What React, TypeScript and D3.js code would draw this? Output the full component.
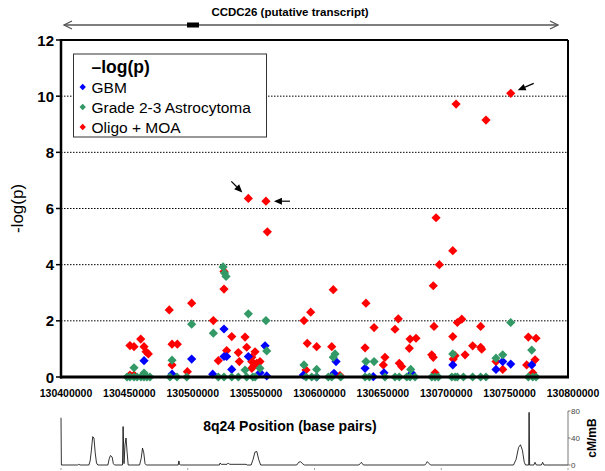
import React from "react";
import * as d3 from "d3";

// ---------- DATA ----------
const X_TICKS = [130400000, 130450000, 130500000, 130550000, 130600000, 130650000, 130700000, 130750000, 130800000];
const Y_TICKS = [0, 2, 4, 6, 8, 10, 12];
const GRID_TICKS = [2, 4, 6, 8, 10];
const RECOMB_TICKS = [0, 40, 80];
const RECOMB_BOTTOM_TICKS = [130400000, 130500000, 130600000, 130700000, 130800000];

const SERIES_NAMES = ["GBM", "Grade 2-3 Astrocytoma", "Oligo + MOA"];
const SERIES_COLORS = ["#0000FF", "#339966", "#FF0000"];

// [position (bp), -log(p)]
const GBM: [number, number][] = [
  [130465500, 0.58], [130487600, 0.1], [130503100, 0.64], [130528600, 1.71], [130528600, 0.73],
  [130530700, 0.73], [130547800, 0.73], [130534700, 0.27], [130519700, 0.1], [130561000, 1.11],
  [130557000, 0.15], [130562300, 0.04], [130591200, 0.07], [130601700, 0.0], [130617000, 0.55],
  [130615400, 0.13], [130639900, 0.31], [130646400, 0.01], [130654800, 0.15], [130676700, 0.13],
  [130709100, 0.43], [130748500, 0.55], [130754800, 0.46], [130743200, 0.27], [130771400, 0.43],
];

const ASTRO: [number, number][] = [
  [130457600, 0.33], [130465500, 0.14], [130452100, 0], [130454400, 0], [130457600, 0], [130460000, 0],
  [130463100, 0], [130465500, 0], [130467800, 0], [130470200, 0],
  [130487600, 0.6], [130486000, 0], [130491500, 0], [130499200, 0],
  [130503100, 1.88], [130520200, 1.56], [130527900, 3.92], [130529000, 3.7], [130530200, 3.58],
  [130547800, 2.25], [130545200, 0.25],
  [130524100, 0], [130528600, 0], [130534700, 0], [130539900, 0], [130546500, 0], [130551300, 0], [130553100, 0],
  [130561700, 2.01], [130562300, 0.93], [130557000, 0.31],
  [130591700, 0.43], [130601700, 0.27], [130593300, 0], [130597800, 0], [130601700, 0], [130610900, 0],
  [130613600, 0], [130620700, 0], [130616200, 0.82], [130614800, 0.7],
  [130640600, 0.55], [130647000, 0.55], [130639900, 0], [130643300, 0], [130655600, 0], [130663500, 0],
  [130666900, 0], [130672800, 0], [130675400, 0], [130679300, 0], [130675900, 0.27],
  [130692500, 0], [130695100, 0], [130697700, 0], [130709100, 0.82],
  [130708300, 0], [130710900, 0], [130712700, 0], [130717500, 0], [130724800, 0], [130731100, 0], [130735300, 0],
  [130754800, 1.94], [130748500, 0.79], [130743200, 0.67], [130771400, 0.96],
  [130768700, 0], [130772200, 0], [130774800, 0],
];

const OLIGO: [number, number][] = [
  [130454400, 1.12], [130457600, 1.08], [130462900, 1.35], [130465500, 1.08], [130467100, 0.9], [130468900, 0.82],
  [130454400, 0.07], [130457600, 0.07], [130485400, 2.39], [130487600, 1.17], [130491800, 1.17], [130487600, 0.43],
  [130503100, 2.63], [130499700, 0.19], [130528600, 3.13], [130528600, 3.76], [130520200, 2.01], [130534700, 1.44],
  [130545200, 1.42], [130530700, 0.94], [130524100, 0.58], [130539900, 0.87], [130546500, 1.06], [130540700, 0.55],
  [130551700, 0.37], [130550500, 0.31], [130554400, 0.49], [130553100, 0.9], [130550500, 0.7], [130550500, 0.55],
  [130557000, 0.55], [130547800, 6.36], [130561700, 6.26], [130562800, 5.17],
  [130614800, 3.11], [130597000, 2.31], [130591700, 2.01], [130594300, 1.2], [130601700, 1.08], [130593300, 0.25],
  [130613600, 1.08], [130620100, 0.05], [130640600, 2.63], [130647000, 1.76], [130639900, 1.04], [130655600, 0.7],
  [130654300, 0.43], [130666100, 2.07], [130663500, 1.7], [130675400, 1.35], [130680100, 1.38], [130674800, 1.02],
  [130666900, 0.49], [130668800, 0.37], [130693700, 3.25], [130694300, 1.8], [130692500, 0.79], [130693700, 0.7],
  [130695100, 0.15], [130695900, 5.67], [130709100, 4.5], [130698500, 4.0], [130711700, 9.72], [130735300, 9.15],
  [130754800, 10.1], [130716200, 2.06], [130712700, 1.94], [130709100, 1.44], [130731100, 1.8], [130724800, 1.11],
  [130731100, 1.06], [130731900, 0.99], [130718800, 0.79], [130710900, 0.76], [130709500, 0.64], [130743200, 0.55],
  [130748500, 0.27], [130768700, 1.42], [130774800, 1.38], [130774000, 0.61], [130767400, 0.43], [130772200, 0.15],
];

// recombination rate (cM/Mb) along the region
const RECOMB: [number, number][] = [
  [130400000, 70], [130400300, 0], [130413000, 0], [130414000, 1], [130415000, 0], [130422000, 0],
  [130423000, 6], [130424000, 22], [130425000, 42], [130426000, 40], [130427000, 18], [130428000, 3], [130429000, 0],
  [130437000, 0], [130438000, 9], [130439000, 14], [130440300, 12], [130441300, 2], [130442300, 0],
  [130448500, 0], [130449000, 57], [130449700, 2], [130450500, 30], [130451300, 40], [130452200, 18], [130453000, 0],
  [130462000, 0], [130463300, 10], [130464300, 25], [130465300, 18], [130466300, 2], [130467300, 0],
  [130492500, 0], [130493000, 6], [130493500, 1], [130494000, 0],
  [130525000, 0], [130525500, 3], [130526500, 1], [130531000, 1], [130532000, 3], [130533000, 1], [130546000, 1],
  [130547000, 0], [130550000, 0], [130551500, 8], [130553000, 19], [130554500, 20], [130556000, 8], [130557500, 0],
  [130586000, 0], [130587500, 4], [130589000, 5], [130590500, 2], [130592000, 0],
  [130635000, 0], [130636000, 2], [130637000, 4], [130638000, 1], [130639000, 0],
  [130687000, 0], [130688000, 2], [130689000, 5], [130690000, 3], [130691500, 0],
  [130757000, 0], [130759000, 8], [130761000, 26], [130762500, 30], [130764000, 22], [130765500, 4], [130766500, 0],
  [130769000, 0], [130769300, 78], [130769700, 0], [130773000, 0], [130774000, 4], [130775000, 0],
  [130779000, 0], [130780000, 4], [130781000, 0], [130800000, 0],
];

const FONT = "'Liberation Sans', Arial, Helvetica, sans-serif";

// ---------- LAYOUT ----------
const W = 605, H = 471;
const L = 61, R = 568, T = 40, B = 377;
const RB_TOP = 411, RB_BOT = 465;

const x = d3.scaleLinear().domain([130400000, 130800000]).range([L, R]);
const y = d3.scaleLinear().domain([0, 12]).range([B, T]);
const yr = d3.scaleLinear().domain([0, 80]).range([RB_BOT, RB_TOP]);

function diamond(cx: number, cy: number, r: number) {
  return `M${cx},${cy - r}L${cx + r},${cy}L${cx},${cy + r}L${cx - r},${cy}Z`;
}

function Arrow({ x1, y1, x2, y2 }: { x1: number; y1: number; x2: number; y2: number }) {
  const a = Math.atan2(y2 - y1, x2 - x1);
  const len = 8, w = 3.5;
  const bx = x2 - len * Math.cos(a), by = y2 - len * Math.sin(a);
  const px = -Math.sin(a) * w, py = Math.cos(a) * w;
  return (
    <g>
      <line x1={x1} y1={y1} x2={bx} y2={by} stroke="#000" strokeWidth={1.2} />
      <path d={`M${x2},${y2}L${bx + px},${by + py}L${bx - px},${by - py}Z`} fill="#000" />
    </g>
  );
}

export default function App() {
  const series = [GBM, ASTRO, OLIGO];
  const recombLine = d3.line<[number, number]>().x((d) => x(d[0])).y((d) => yr(d[1]))(RECOMB) || "";

  // annotation targets
  const p1 = [x(130547800), y(6.36)];
  const p2 = [x(130561700), y(6.26)];
  const p3 = [x(130754800), y(10.1)];

  return (
    <svg width={W} height={H} style={{ position: "absolute", left: 0, top: 0, background: "#fff" }} fontFamily={FONT}>
      <rect x={0} y={0} width={W} height={H} fill="#fff" />

      {/* transcript annotation */}
      <text x={290} y={16} textAnchor="middle" fontSize={11.5} fontWeight="bold">CCDC26 (putative transcript)</text>
      <line x1={64} y1={25} x2={558} y2={25} stroke="#555" strokeWidth={1.3} />
      <path d="M72,21L64,25L72,29" fill="none" stroke="#555" strokeWidth={1.3} />
      <path d="M550,21L558,25L550,29" fill="none" stroke="#555" strokeWidth={1.3} />
      <rect x={187} y={22.5} width={12} height={5} fill="#000" />

      {/* grid lines */}
      {GRID_TICKS.map((t) => (
        <line key={t} x1={L} x2={R} y1={y(t)} y2={y(t)} stroke="#000" strokeWidth={1} strokeDasharray="1.5,1.5" />
      ))}

      {/* plot border */}
      <line x1={L} x2={R} y1={T} y2={T} stroke="#000" strokeWidth={2} />
      <line x1={R} x2={R} y1={T} y2={B} stroke="#000" strokeWidth={2} />

      {/* y ticks */}
      {Y_TICKS.map((t) => (
        <g key={t}>
          <line x1={L - 5} x2={L} y1={y(t)} y2={y(t)} stroke="#000" strokeWidth={1.5} />
          <text x={L - 7} y={y(t) + 5.5} textAnchor="end" fontSize={15} fontWeight="bold">{t}</text>
        </g>
      ))}
      {/* x ticks */}
      {X_TICKS.map((t) => (
        <text key={t} x={x(t) + 5} y={397} textAnchor="middle" fontSize={10.5} fontWeight="bold">{t}</text>
      ))}

      <text transform={`translate(23,${(T + B) / 2}) rotate(-90)`} textAnchor="middle" fontSize={17}>-log(p)</text>

      {/* points */}
      {[2, 0, 1].map((si) => (
        <g key={si}>
          {series[si].map((d, i) => (
            <path key={i} d={diamond(x(d[0]), y(d[1]), 4.6)} fill={SERIES_COLORS[si]} />
          ))}
        </g>
      ))}

      {/* axes */}
      <line x1={L} x2={L} y1={T - 1} y2={B + 1.5} stroke="#000" strokeWidth={2.5} />
      <line x1={L - 1} x2={R + 1} y1={B} y2={B} stroke="#000" strokeWidth={3} />

      {/* annotation arrows */}
      <Arrow x1={p1[0] - 17} y1={p1[1] - 17} x2={p1[0] - 6} y2={p1[1] - 6} />
      <Arrow x1={p2[0] + 24} y1={p2[1]} x2={p2[0] + 8} y2={p2[1]} />
      <Arrow x1={p3[0] + 23} y1={p3[1] - 10} x2={p3[0] + 7} y2={p3[1] - 3} />

      {/* legend */}
      <rect x={73.5} y={54} width={193} height={83} fill="#fff" stroke="#333" strokeWidth={1} />
      <text x={91.5} y={73} fontSize={17.5} fontWeight="bold">–log(p)</text>
      {SERIES_NAMES.map((n, i) => (
        <g key={n}>
          <path d={diamond(82.7, 87 + i * 20, 3.2)} fill={SERIES_COLORS[i]} />
          <text x={91.5} y={92.5 + i * 20} fontSize={15.5}>{n}</text>
        </g>
      ))}

      {/* recombination panel */}
      <text x={290} y={431} textAnchor="middle" fontSize={14} fontWeight="bold">8q24 Position (base pairs)</text>
      <path d={recombLine} fill="none" stroke="#000" strokeWidth={0.8} />
      {RECOMB_BOTTOM_TICKS.map((t) => (
        <line key={t} x1={x(t)} x2={x(t)} y1={RB_BOT + 3} y2={RB_BOT + 5} stroke="#888" strokeWidth={0.8} />
      ))}
      <line x1={R} x2={R} y1={RB_TOP} y2={RB_BOT} stroke="#555" strokeWidth={0.8} />
      {RECOMB_TICKS.map((t) => (
        <g key={t}>
          <line x1={R} x2={R + 2.5} y1={yr(t)} y2={yr(t)} stroke="#555" strokeWidth={0.8} />
          <text x={R + 3} y={yr(t) + 3} fontSize={8} fill="#444">{t}</text>
        </g>
      ))}
      <text transform={`translate(596,${(RB_TOP + RB_BOT) / 2}) rotate(-90)`} textAnchor="middle" fontSize={12} fontWeight="bold">cM/mB</text>
    </svg>
  );
}
